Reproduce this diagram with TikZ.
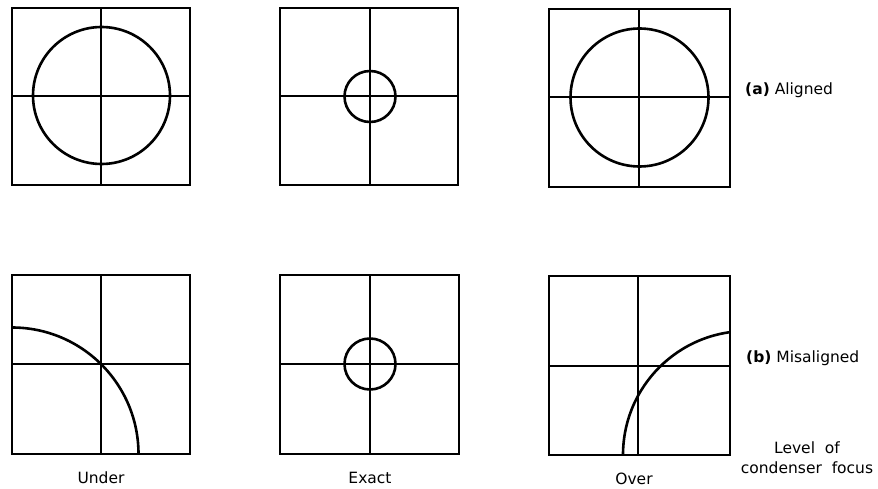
\documentclass[tikz,border=0pt]{standalone}
\usepackage{fontspec}
\setmainfont{DejaVu Sans}
\begin{document}
\begin{tikzpicture}[x=1pt,y=-1pt,
  frame/.style={line width=1.8pt},
  hair/.style={line width=1.1pt},
  ring/.style={line width=2.6pt},
  lbl/.style={font=\fontsize{15.5}{20}\selectfont, inner sep=0pt}]
\useasboundingbox (0,0) rectangle (878,489);
% ---- top row ----
% (a) under
\draw[hair] (101,8) -- (101,185) (12,96) -- (190,96);
\draw[ring] (101.5,95.5) circle[radius=68.5];
\draw[frame] (12,8) rectangle (190,185);
% (a) exact
\draw[hair] (370,8) -- (370,185) (280,96) -- (458,96);
\draw[ring] (370,96.5) circle[radius=25.5];
\draw[frame] (280,8) rectangle (458,185);
% (a) over
\draw[hair] (639,9) -- (639,187) (549,97) -- (730,97);
\draw[ring] (639.5,97.5) circle[radius=69];
\draw[frame] (549,9) rectangle (730,187);
% ---- bottom row ----
% (b) under
\draw[hair] (101,275) -- (101,454) (12,364) -- (190,364);
\begin{scope}
  \clip (12,275) rectangle (190,454);
  \draw[ring] (12,454) circle[radius=126.5];
\end{scope}
\draw[frame] (12,275) rectangle (190,454);
% (b) exact
\draw[hair] (370,275) -- (370,454) (280,364) -- (459,364);
\draw[ring] (370,364) circle[radius=25.5];
\draw[frame] (280,275) rectangle (459,454);
% (b) over
\draw[hair] (638,276) -- (638,455) (549,366) -- (730,366);
\begin{scope}
  \clip (549,276) rectangle (730,455);
  \draw[ring] (747,455) circle[radius=124];
\end{scope}
\draw[frame] (549,276) rectangle (730,455);
% ---- labels ----
\node[lbl] (under) at (101,478) {Under};
\node[lbl] (exact) at (370,478) {Exact};
\node[lbl] (over) at (634,479) {Over};
\node[lbl,anchor=west] (aligned) at (745,90) {\textbf{(a)} Aligned};
\node[lbl,anchor=west] (misaligned) at (746,358) {\textbf{(b)} Misaligned};
\node[lbl,align=center] (level) at (807,458) {Level\ \ of\\condenser\ \ focus};
\end{tikzpicture}
\end{document}
